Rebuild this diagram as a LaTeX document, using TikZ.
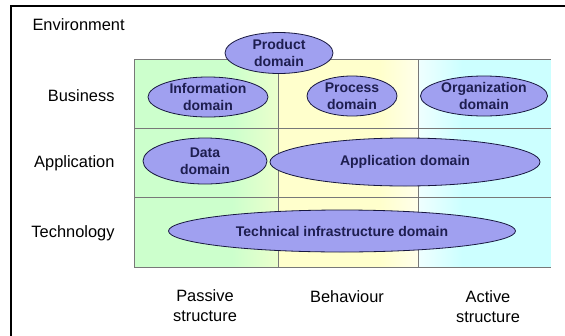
\documentclass[tikz,border=0pt]{standalone}
\usepackage{fontspec}
\setmainfont{Liberation Sans}
\usetikzlibrary{shapes.geometric}

\definecolor{passivegreen}{RGB}{204,255,204}
\definecolor{behavyellow}{RGB}{255,255,204}
\definecolor{activecyan}{RGB}{204,255,255}
\definecolor{domainfill}{RGB}{160,160,240}
\definecolor{domaintext}{RGB}{30,30,80}
\definecolor{gridgray}{RGB}{120,120,120}

\tikzset{
  bubble/.style={ellipse,draw=domaintext!80!black,fill=domainfill,line width=0.8pt,
    inner sep=0pt,align=center,text=domaintext,
    font=\fontsize{14}{17}\selectfont\bfseries},
  layer/.style={font=\fontsize{16.4}{20}\selectfont},
}

\begin{document}
\begin{tikzpicture}[x=1pt,y=-1pt]
            \useasboundingbox (0,0) rectangle (565,335);
            % column backgrounds
            \fill[passivegreen] (134,59) rectangle (232,267);
            \shade[left color=passivegreen,right color=passivegreen!40!behavyellow] (232,59) rectangle (278,267);
            \fill[behavyellow] (278,59) rectangle (380,267);
            \shade[left color=behavyellow,right color=behavyellow!40!white] (380,59) rectangle (418,267);
            \shade[left color=activecyan!30!white,right color=activecyan] (418,59) rectangle (462,267);
            \fill[activecyan] (462,59) rectangle (551,267);
            % grid
            \foreach \y in {59,128,197,267} \draw[gridgray,line width=1pt] (134,\y)--(551,\y);
            \foreach \x in {134,278,418} \draw[gridgray,line width=1pt] (\x,59)--(\x,267);
            % frame
            \draw[line width=2.5pt] (11,340)--(11,6)--(570,6);
            % layers
            \node[layer,anchor=west] (env) at (29,25) {Environment};
            \node[layer,anchor=east] (bus) at (118,96) {Business};
            \node[layer,anchor=east] (app) at (118,163) {Application};
            \node[layer,anchor=east] (tech) at (118,233) {Technology};
            \node[layer,align=center] (passive) at (205,306) {Passive\\structure};
            \node[layer] (behav) at (347,297) {Behaviour};
            \node[layer,align=center] (active) at (488,307) {Active\\structure};
            % domains
            \node[bubble,minimum width=108,minimum height=41] (product) at (279,53) {Product\\domain};
            \node[bubble,minimum width=120,minimum height=40] (information) at (208,97) {Information\\domain};
            \node[bubble,minimum width=90,minimum height=40] (process) at (352,96) {Process\\domain};
            \node[bubble,minimum width=127,minimum height=40] (organization) at (484,96) {Organization\\domain};
            \node[bubble,minimum width=124,minimum height=46] (data) at (205,161) {Data\\domain};
            \node[bubble,minimum width=270,minimum height=48] (application) at (405,162) {Application domain};
            \node[bubble,minimum width=347,minimum height=42] (technical) at (342,231) {Technical infrastructure domain};
        \end{tikzpicture}
\end{document}
